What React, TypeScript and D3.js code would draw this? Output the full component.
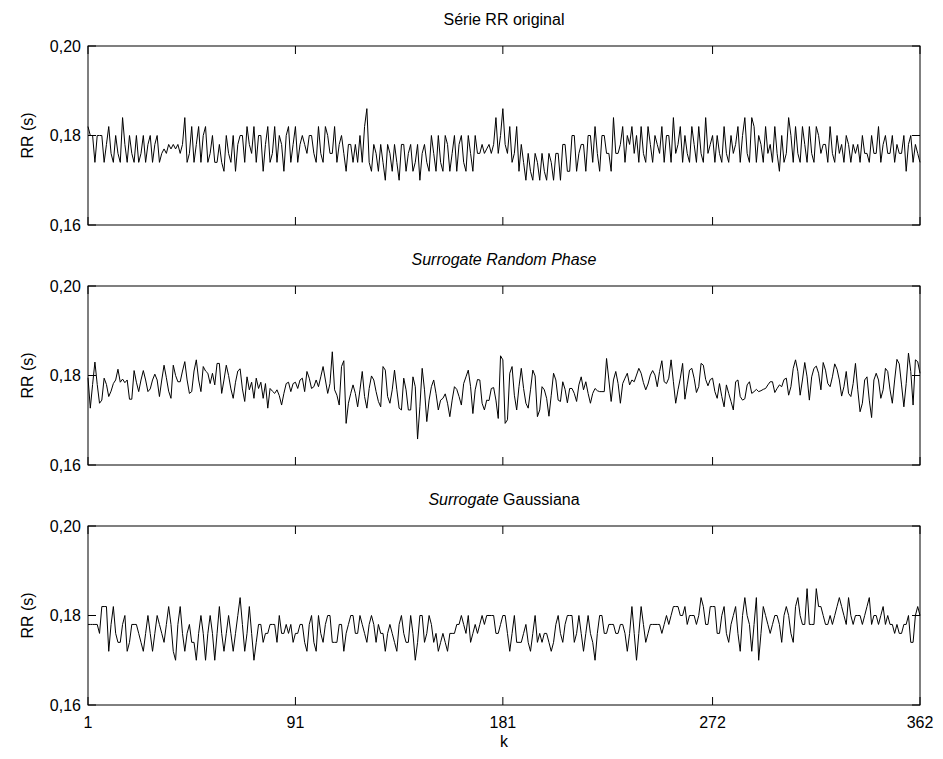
import React from 'react';
import * as d3 from 'd3';

// RR interval series, in milliseconds
const rrOriginalMs = [
  182,180,180,174,180,180,180,174,178,182,176,174,180,176,174,184,178,174,180,176,174,180,174,176,180,174,178,180,174,178,180,174,
  176,177,176,178,177,178,177,178,176,178,
  184,174,176,182,174,178,182,174,180,182,174,176,180,174,174,178,174,172,180,176,174,180,172,178,180,180,174,182,178,176,182,174,180,180,172,178,182,174,176,182,174,180,178,172,180,182,174,178,182,174,
  178,180,178,176,180,180,176,174,182,176,174,182,180,176,176,182,174,178,180,176,172,178,178,174,178,174,180,174,182,
  186,
  174,172,178,176,172,178,174,170,178,176,172,178,174,170,178,178,172,176,178,172,174,178,170,176,178,174,172,180,176,172,180,174,172,180,178,172,176,180,172,178,180,174,172,180,176,172,180,176,
  176,178,176,177,178,176,178,184,176,180,186,
  178,176,182,174,176,182,172,178,174,170,176,172,170,176,174,170,176,172,170,176,174,170,176,176,170,178,178,172,172,180,
  180,172,176,178,178,172,180,180,174,182,176,172,180,180,176,176,172,184,176,176,178,182,174,180,178,182,176,180,174,182,
  176,174,182,178,174,180,178,176,182,174,180,180,174,184,176,178,182,174,180,176,174,182,178,174,182,176,174,184,176,178,180,174,
  180,176,174,182,176,174,180,176,178,182,174,180,184,176,174,184,182,174,180,178,174,182,176,178,174,182,176,172,180,174,
  176,184,180,174,182,176,174,182,178,174,182,176,174,182,180,176,178,178,174,182,176,174,180,176,178,174,180,178,174,178,
  176,178,174,180,176,176,174,180,176,176,182,174,178,180,176,176,180,174,178,176,176,180,172,178,180,174,178,176,174,
];

const rrRandomPhaseMs = [
  179.5,172.7,178,183,178,173.8,174.5,179.4,178,175.3,176.5,178.2,179,181.4,178.5,179.2,178.4,179,174.7,174.7,
  181.1,178.5,176.4,179,181.1,179,176.4,177,179,180.3,179,175.3,179,182.3,179.5,176.5,174.9,182.3,180,178.6,
  178.6,181,183.1,179,176,176.4,181,183.5,179,176.4,182,181,180.5,178.2,180.5,177.9,182.7,182.7,176,179,
  182.3,180,177,174.9,178.5,181,181.5,177,174.2,179.7,176.8,178.5,174.9,179.4,177.1,178.5,174.9,178.2,172.7,177.1,
  176.5,176,176.8,175.5,173.4,176,178.2,178.5,176.4,178.2,178.5,177.1,
  179,179.4,176.4,180.9,179.4,177.1,177.5,179,177.5,179.7,182,179,176,178.2,185.3,176.8,175.6,173.4,182,183.3,
  169.3,173.8,176,177.9,176,173,176.8,180.9,175.3,172.7,177.1,179.9,179,176.4,174.2,173,182,181.2,175.3,173.8,
  176.8,181.2,176.8,172.7,172.3,179.4,176.8,172.3,172.3,179.7,177.5,165.8,173,181.6,176.8,169.7,174.5,177.5,179,176,
  172.3,174.5,174.9,175.9,173.8,170.8,174.5,177.5,176.9,175.3,173.4,178.2,179.7,181.2,177.5,171.5,176.8,179.1,179,173.8,
  172.3,174.5,174.4,177.1,177.3,174.5,170.4,184.4,183.5,169.3,
  170.1,180.5,182,175.6,172.3,177.5,181.6,177.1,173.8,172.7,176.8,181.2,179.9,170.8,172.3,177.5,176.8,174.9,170.9,175.6,
  180.5,179,174.5,174.2,178.6,176.9,173.9,177.1,177.1,176,174.2,177.9,179.7,176.8,178.6,176,173.8,176,177.1,176.6,
  176.4,176.4,176.4,183.8,179,174.2,179,180.9,178.2,173.8,178.2,179.4,180.5,177.9,179,178.6,180.1,181.6,180.5,178.4,
  176.8,178.1,180.1,181.1,180.1,177.5,180.9,183.3,178.6,178.2,179.4,183.5,178.6,173.8,176.8,179.4,182.7,174.7,177.9,181.2,
  181.6,179.4,176.2,177.5,182.7,182.3,179.1,177.7,179.1,179.4,176.4,
  174.9,178.2,175.3,173,177.9,176,174.2,172.3,178.6,179,175.3,174.5,174.8,177.9,178.6,176,176.4,176.9,176.4,176.6,
  176.9,177.1,177.9,178.6,178.6,176.2,177.1,177.9,177.5,179.1,179.4,175.6,177.5,181.6,183.5,180.9,175.6,179,182.9,179.7,
  174.5,179.7,181.6,182.1,180.5,176.8,182.9,181.2,178.2,177.5,179.7,182.6,181.4,179,175.4,177.5,180.9,176,175.3,178.2,
  182.7,176.8,171.9,173.8,179,179.7,174.5,170.6,179,180.5,179,174.9,176.8,181.6,180.9,176.8,173.8,179,183.6,182.6,
  177.9,173,178.2,185,180.9,173.4,183.5,183.1,180.5,
];

const rrGaussianMs = [
  178,178,178,178,178,176,182,182,182,172,178,182,176,174,174,178,180,172,174,178,
  178,178,176,174,172,176,180,176,172,176,180,178,176,174,178,182,178,172,170,178,
  182,176,172,176,178,174,174,170,176,180,176,170,176,180,176,170,176,182,176,172,
  176,180,176,172,176,180,184,178,172,176,182,176,170,174,178,178,174,176,176,178,
  178,178,174,180,176,176,178,176,178,174,176,176,
  178,178,174,172,178,180,174,172,180,176,174,178,180,180,174,174,174,178,178,172,
  176,178,180,180,176,176,180,178,176,174,178,180,178,174,178,176,176,172,176,178,
  176,174,172,178,180,176,174,174,180,176,170,174,180,180,174,176,180,178,174,176,
  172,174,176,174,172,176,176,176,178,178,180,178,176,180,174,176,178,176,178,180,
  178,180,180,180,180,176,176,178,180,180,
  176,172,176,180,174,174,174,176,178,174,172,176,180,174,176,174,176,176,174,172,
  174,178,180,176,174,178,180,180,180,174,176,180,176,172,176,180,176,174,170,176,
  180,180,176,176,178,178,178,176,176,178,178,176,172,176,182,176,170,176,182,178,
  174,176,178,178,178,178,178,176,178,180,178,180,182,182,182,180,180,182,178,180,
  180,180,178,180,184,182,178,178,182,182,182,
  176,176,180,182,176,174,178,180,182,176,172,180,184,180,178,172,178,184,170,176,
  182,180,178,176,178,180,180,178,174,180,182,180,176,174,182,184,180,178,178,186,
  178,178,178,186,182,182,180,178,178,180,178,180,182,184,182,180,178,184,180,178,
  180,180,180,178,180,182,184,178,180,180,178,180,182,178,180,178,178,176,178,176,
  176,178,178,180,174,174,180,182,180,
];

const xTicks = [1, 91, 181, 272, 362];
const yTicks = [0.16, 0.18, 0.2];

const W = 943;
const H = 759;
const left = 88;
const right = 920;
const panelH = 179;
const panelTops = [46, 286, 526];
const tickLen = 8;
const fs = 16;
const font = '"Liberation Sans", Arial, Helvetica, sans-serif';

const x = d3.scaleLinear().domain([1, 362]).range([left, right]);

type PanelProps = { top: number; series: number[]; title: React.ReactNode; showX: boolean };

const Panel = ({ top, series, title, showX }: PanelProps) => {
  const y = d3.scaleLinear().domain([0.16, 0.2]).range([top + panelH, top]);
  const line = d3
    .line<number>()
    .x((_, i) => x(i + 1))
    .y((d) => y(d / 1000));
  const bottom = top + panelH;
  return (
    <g>
      <path d={line(series) || ''} fill="none" stroke="#000" strokeWidth={1} />
      {/* ticks inward on all four sides */}
      {yTicks.map((t) => (
        <g key={'y' + t}>
          <line x1={left} x2={left + tickLen} y1={y(t)} y2={y(t)} stroke="#000" />
          <line x1={right} x2={right - tickLen} y1={y(t)} y2={y(t)} stroke="#000" />
          <text x={left - 7} y={y(t)} dy="0.35em" textAnchor="end" fontSize={fs} fontFamily={font}>
            {t.toFixed(2).replace('.', ',')}
          </text>
        </g>
      ))}
      {xTicks.map((t) => (
        <g key={'x' + t}>
          <line x1={x(t)} x2={x(t)} y1={bottom} y2={bottom - tickLen} stroke="#000" />
          <line x1={x(t)} x2={x(t)} y1={top} y2={top + tickLen} stroke="#000" />
          {showX && (
            <text x={x(t)} y={bottom + 23} textAnchor="middle" fontSize={fs} fontFamily={font}>
              {t}
            </text>
          )}
        </g>
      ))}
      <rect x={left} y={top} width={right - left} height={panelH} fill="none" stroke="#000" strokeWidth={1} />
      <text
        transform={`translate(33,${top + panelH / 2}) rotate(-90)`}
        textAnchor="middle"
        fontSize={fs}
        fontFamily={font}
      >
        RR (s)
      </text>
      <text x={(left + right) / 2} y={top - 21} textAnchor="middle" fontSize={fs} fontFamily={font}>
        {title}
      </text>
    </g>
  );
};

export default function App() {
  return (
    <svg
      width={W}
      height={H}
      viewBox={`0 0 ${W} ${H}`}
      style={{ position: 'absolute', left: 0, top: 0, background: '#fff' }}
    >
      <rect width={W} height={H} fill="#fff" />
      <Panel top={panelTops[0]} series={rrOriginalMs} title="Série RR original" showX={false} />
      <Panel
        top={panelTops[1]}
        series={rrRandomPhaseMs}
        title={<tspan fontStyle="italic">Surrogate Random Phase</tspan>}
        showX={false}
      />
      <Panel
        top={panelTops[2]}
        series={rrGaussianMs}
        title={
          <>
            <tspan fontStyle="italic">Surrogate</tspan> Gaussiana
          </>
        }
        showX={true}
      />
      <text x={(left + right) / 2} y={747} textAnchor="middle" fontSize={fs} fontFamily={font}>
        k
      </text>
    </svg>
  );
}
